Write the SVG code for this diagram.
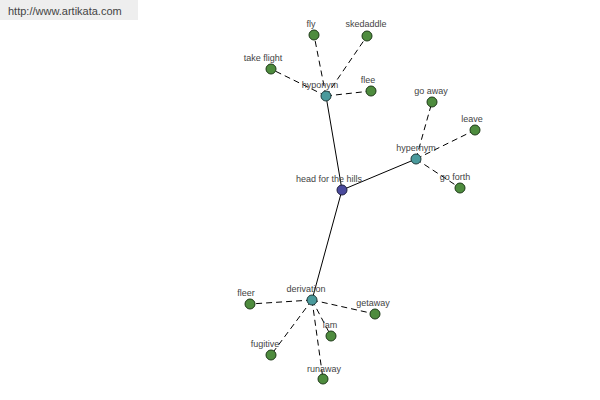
<svg xmlns="http://www.w3.org/2000/svg" width="600" height="400" viewBox="0 0 600 400">
<style>
.lbl{font-family:"Liberation Sans",Arial,sans-serif;font-size:9px;fill:#444;text-anchor:middle}
.leaf{fill:#4e8c3e;stroke:#1e3a18;stroke-width:1}
.rel{fill:#4a9a9c;stroke:#1e3a3a;stroke-width:1}
.root{fill:#4a4a9c;stroke:#1e1e40;stroke-width:1}
.solid{stroke:#000;stroke-width:1;fill:none}
.dash{stroke:#000;stroke-width:1;fill:none;stroke-dasharray:6,4}
</style>
<rect width="600" height="400" fill="#fff"/>
<rect x="0" y="0" width="138" height="20" fill="#eeeeee"/>
<text x="8" y="15" font-family="Liberation Sans,Arial,sans-serif" font-size="11" fill="#444">http://www.artikata.com</text>
<g id="connectors">
<line class="solid" x1="342" y1="190" x2="326" y2="96"/>
<line class="solid" x1="342" y1="190" x2="416" y2="159"/>
<line class="solid" x1="342" y1="190" x2="312" y2="300"/>
<line class="dash" x1="326" y1="96" x2="314" y2="35"/>
<line class="dash" x1="326" y1="96" x2="367" y2="36"/>
<line class="dash" x1="326" y1="96" x2="271" y2="69"/>
<line class="dash" x1="326" y1="96" x2="371" y2="91"/>
<line class="dash" x1="416" y1="159" x2="432" y2="102"/>
<line class="dash" x1="416" y1="159" x2="475" y2="130"/>
<line class="dash" x1="416" y1="159" x2="460" y2="188"/>
<line class="dash" x1="312" y1="300" x2="250" y2="304"/>
<line class="dash" x1="312" y1="300" x2="375" y2="314"/>
<line class="dash" x1="312" y1="300" x2="331" y2="336"/>
<line class="dash" x1="312" y1="300" x2="271" y2="355"/>
<line class="dash" x1="312" y1="300" x2="323" y2="379"/>
</g>
<g id="n-fly"><circle class="leaf" cx="314" cy="35" r="5"/><text class="lbl" x="311" y="27">fly</text></g>
<g id="n-skedaddle"><circle class="leaf" cx="367" cy="36" r="5"/><text class="lbl" x="366" y="27">skedaddle</text></g>
<g id="n-takeflight"><circle class="leaf" cx="271" cy="69" r="5"/><text class="lbl" x="263" y="61">take flight</text></g>
<g id="n-flee"><circle class="leaf" cx="371" cy="91" r="5"/><text class="lbl" x="368" y="83">flee</text></g>
<g id="n-hyponym"><circle class="rel" cx="326" cy="96" r="5"/><text class="lbl" x="320" y="88">hyponym</text></g>
<g id="n-goaway"><circle class="leaf" cx="432" cy="102" r="5"/><text class="lbl" x="431" y="94">go away</text></g>
<g id="n-leave"><circle class="leaf" cx="475" cy="130" r="5"/><text class="lbl" x="472" y="122">leave</text></g>
<g id="n-hypernym"><circle class="rel" cx="416" cy="159" r="5"/><text class="lbl" x="416" y="151">hypernym</text></g>
<g id="n-goforth"><circle class="leaf" cx="460" cy="188" r="5"/><text class="lbl" x="455" y="180">go forth</text></g>
<g id="n-root"><circle class="root" cx="342" cy="190" r="5"/><text class="lbl" x="329" y="182">head for the hills</text></g>
<g id="n-derivation"><circle class="rel" cx="312" cy="300" r="5"/><text class="lbl" x="306" y="292">derivation</text></g>
<g id="n-fleer"><circle class="leaf" cx="250" cy="304" r="5"/><text class="lbl" x="246" y="296">fleer</text></g>
<g id="n-getaway"><circle class="leaf" cx="375" cy="314" r="5"/><text class="lbl" x="373" y="306">getaway</text></g>
<g id="n-lam"><circle class="leaf" cx="331" cy="336" r="5"/><text class="lbl" x="330" y="328">lam</text></g>
<g id="n-fugitive"><circle class="leaf" cx="271" cy="355" r="5"/><text class="lbl" x="265" y="347">fugitive</text></g>
<g id="n-runaway"><circle class="leaf" cx="323" cy="379" r="5"/><text class="lbl" x="324" y="372">runaway</text></g>
</svg>
